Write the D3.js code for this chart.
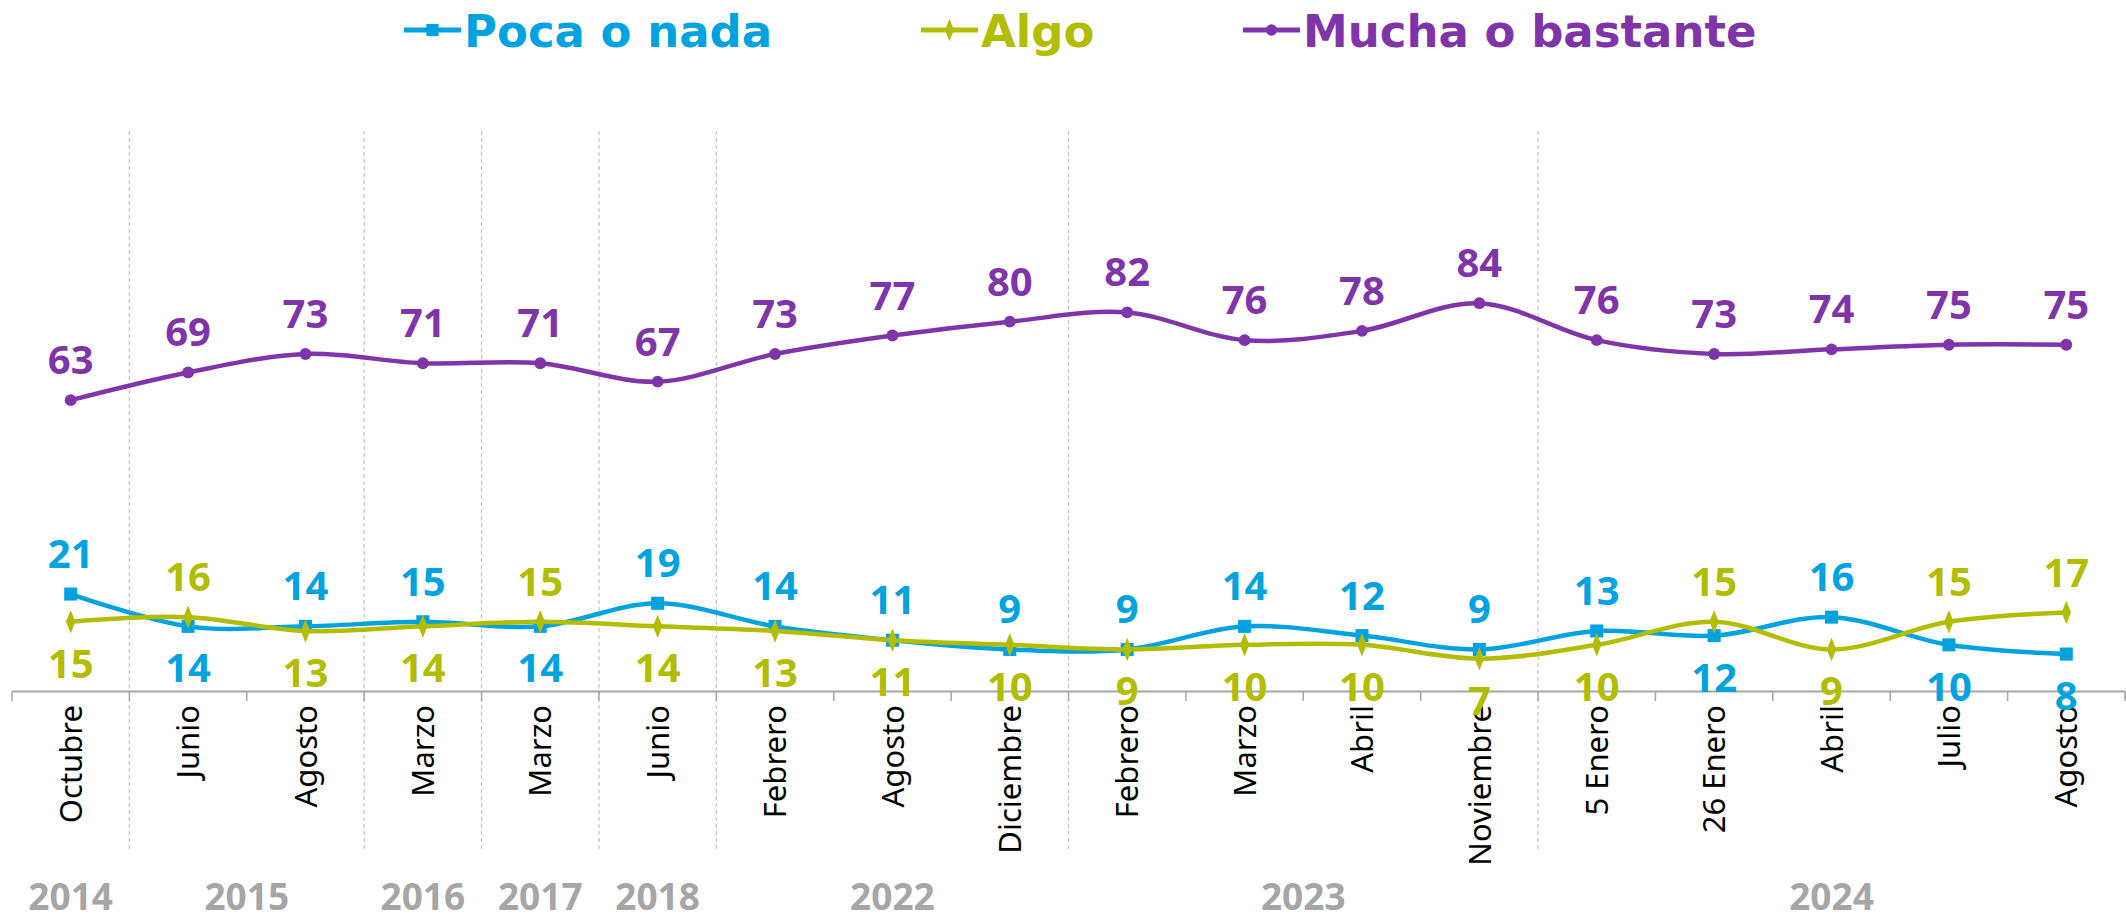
<!DOCTYPE html>
<html>
<head>
<meta charset="utf-8">
<script src="https://cdn.jsdelivr.net/npm/d3@7"></script>
<style>
  html, body { margin: 0; padding: 0; background: #fff; }
  svg { display: block; }
</style>
</head>
<body>
<svg id="chart" width="2126" height="921"></svg>
<script>
// ---- data ----
const categories = ["Octubre","Junio","Agosto","Marzo","Marzo","Junio","Febrero","Agosto","Diciembre","Febrero","Marzo","Abril","Noviembre","5 Enero","26 Enero","Abril","Julio","Agosto"];
const pocaValues = [21,14,14,15,14,19,14,11,9,9,14,12,9,13,12,16,10,8];
const algoValues = [15,16,13,14,15,14,13,11,10,9,10,10,7,10,15,9,15,17];
const muchaValues = [63,69,73,71,71,67,73,77,80,82,76,78,84,76,73,74,75,75];
// label placement: 1 = above point, -1 = below
const pocaLabelSide = [1,-1,1,1,-1,1,1,1,1,1,1,1,1,1,-1,1,-1,-1];
const algoLabelSide = [-1,1,-1,-1,1,-1,-1,-1,-1,-1,-1,-1,-1,-1,1,-1,1,1];
const muchaLabelSide = [1,1,1,1,1,1,1,1,1,1,1,1,1,1,1,1,1,1];
const yearLabels = ["2014","2015","2016","2017","2018","2022","2023","2024"];
const yearStart = [0,1,3,4,5,6,9,13];
const yearEnd   = [0,2,3,4,5,8,12,17];
const seriesNames = ["Poca o nada","Algo","Mucha o bastante"];

// ---- styles ----
const colors = {poca: "#00a3e0", algo: "#b3bd00", mucha: "#7f35a9"};

const svg = d3.select("#chart");
const idx = categories.map((d, i) => i);
const x = d3.scaleBand().domain(idx).range([12, 2125]).padding(0);
const y = d3.scaleLinear().domain([0, 120]).range([691, 137]);
const cx = i => x(i) + x.bandwidth() / 2;

// dashed year separators
const sepIdx = yearEnd.slice(0, -1);
svg.append("g").selectAll("line").data(sepIdx).join("line")
  .attr("x1", d => x(d) + x.bandwidth()).attr("x2", d => x(d) + x.bandwidth())
  .attr("y1", 131).attr("y2", 850)
  .attr("stroke", "#c4c4c4").attr("stroke-width", 1.2).attr("stroke-dasharray", "4,3");

// x axis
const axis = d3.axisBottom(x).tickSize(0).tickFormat(() => "");
const gx = svg.append("g").attr("transform", `translate(0,${y(0)})`).call(axis);
gx.select(".domain").attr("stroke", "#a6a6a6").attr("stroke-width", 2);
// boundary ticks
const bounds = idx.map(i => x(i)).concat([x(idx[idx.length-1]) + x.bandwidth()]);
gx.selectAll("line.bt").data(bounds).join("line").attr("class","bt")
  .attr("x1", d => d).attr("x2", d => d).attr("y1", 0).attr("y2", 10)
  .attr("stroke", "#a6a6a6").attr("stroke-width", 1.5);

// category labels (rotated)
svg.append("g").selectAll("text").data(idx).join("text")
  .attr("transform", d => `translate(${cx(d)},705) rotate(-90)`)
  .attr("text-anchor", "end").attr("dy", "0.36em")
  .attr("font-family", "'Noto Sans', sans-serif").attr("font-size", 31)
  .attr("fill", "#000").text(d => categories[d]);

// year labels
svg.append("g").selectAll("text").data(yearLabels).join("text")
  .attr("x", (d, i) => (cx(yearStart[i]) + cx(yearEnd[i])) / 2)
  .attr("y", 910).attr("text-anchor", "middle")
  .attr("font-family", "'Noto Sans', sans-serif").attr("font-weight", 700)
  .attr("font-size", 37).attr("fill", "#a6a6a6").text(d => d);

const line = d3.line().x((d, i) => cx(i)).y(d => y(d)).curve(d3.curveCatmullRom.alpha(0));

function drawSeries(values, color, marker) {
  const g = svg.append("g");
  g.append("path").datum(values).attr("d", line)
    .attr("fill", "none").attr("stroke", color).attr("stroke-width", 4.5)
    .attr("stroke-linejoin", "round").attr("stroke-linecap", "round");
  const sym = d3.symbol().type(marker === "square" ? d3.symbolSquare : marker === "diamond" ? d3.symbolDiamond : d3.symbolCircle)
    .size(marker === "square" ? 170 : marker === "diamond" ? 120 : 110);
  g.selectAll("path.m").data(values).join("path").attr("class", "m")
    .attr("transform", (d, i) => `translate(${cx(i)},${y(d)})${marker === "diamond" ? " scale(0.8,1.15)" : ""}`)
    .attr("d", sym).attr("fill", color);
  return g;
}
function drawLabels(values, color, sides) {
  svg.append("g").selectAll("text").data(values).join("text")
    .attr("x", (d, i) => cx(i))
    .attr("y", (d, i) => sides[i] > 0 ? y(d) - 26 : y(d) + 56)
    .attr("text-anchor", "middle")
    .attr("font-family", "'Noto Sans', sans-serif").attr("font-weight", 700)
    .attr("font-size", 40).attr("fill", color).text(d => d);
}

drawSeries(pocaValues, colors.poca, "square");
drawSeries(algoValues, colors.algo, "diamond");
drawSeries(muchaValues, colors.mucha, "circle");
drawLabels(pocaValues, colors.poca, pocaLabelSide);
drawLabels(algoValues, colors.algo, algoLabelSide);
drawLabels(muchaValues, colors.mucha, muchaLabelSide);

// legend
const legendX = [404, 921, 1243];
const legendColors = [colors.poca, colors.algo, colors.mucha];
const legendMarkers = ["square", "diamond", "circle"];
const lg = svg.append("g");
seriesNames.forEach((name, i) => {
  const x0 = legendX[i], yc = 30;
  lg.append("line").attr("x1", x0).attr("x2", x0 + 57).attr("y1", yc).attr("y2", yc)
    .attr("stroke", legendColors[i]).attr("stroke-width", 5);
  const m = legendMarkers[i];
  const sym = d3.symbol().type(m === "square" ? d3.symbolSquare : m === "diamond" ? d3.symbolDiamond : d3.symbolCircle)
    .size(m === "square" ? 150 : m === "diamond" ? 110 : 100);
  lg.append("path").attr("d", sym)
    .attr("transform", `translate(${x0 + 28.5},${yc})${m === "diamond" ? " scale(0.8,1.15)" : ""}`)
    .attr("fill", legendColors[i]);
  lg.append("text").attr("x", x0 + 60).attr("y", 47)
    .attr("font-family", "'DejaVu Sans', sans-serif").attr("font-weight", 700)
    .attr("font-size", 45).attr("fill", legendColors[i]).text(name);
});
</script>
</body>
</html>
